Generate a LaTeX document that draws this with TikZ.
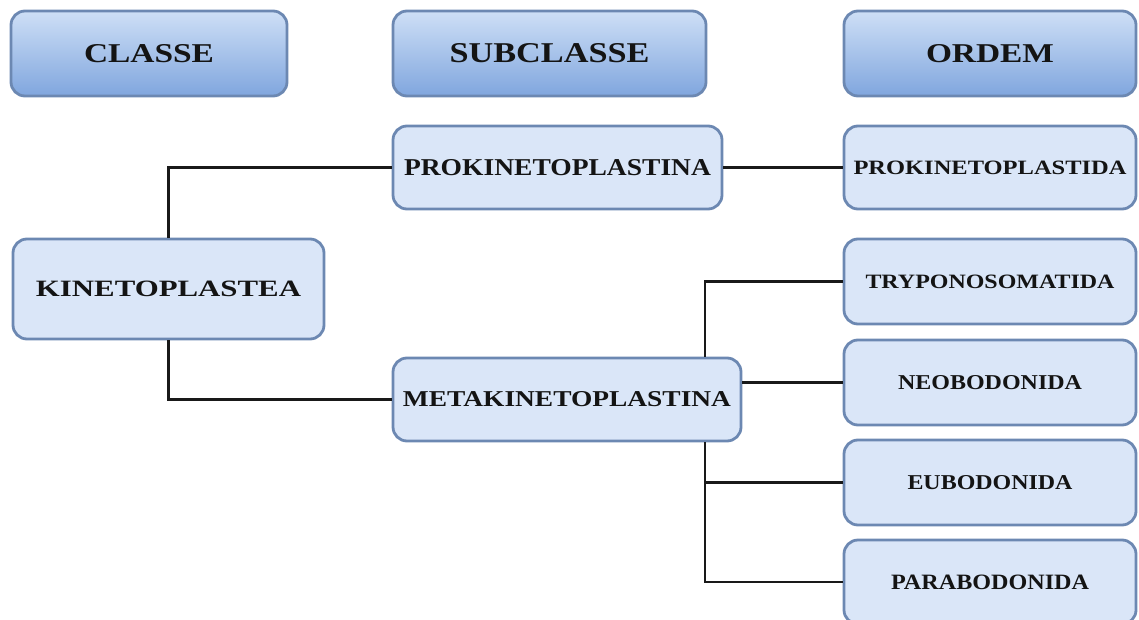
\documentclass[tikz,border=0pt]{standalone}
\usepackage{fontspec}
\usepackage{graphicx}
\setmainfont{Liberation Serif}

\definecolor{edgeblue}{RGB}{108,136,178}
\definecolor{boxfill}{RGB}{218,230,248}
\definecolor{headtop}{RGB}{206,223,246}
\definecolor{headbot}{RGB}{128,166,222}
\definecolor{linkcol}{RGB}{25,25,25}

% label scaled to a given width and cap height
\newcommand{\fitlabel}[3]{\resizebox{#1}{#2}{\bfseries #3}}

\tikzset{
  taxon/.style={draw=edgeblue, line width=2.8pt, rounded corners=14pt,
    fill=boxfill, inner sep=0pt, text=black!92},
  rank/.style={taxon, top color=headtop, bottom color=headbot},
  link/.style={draw=linkcol, line width=2.4pt},
}

\begin{document}
\begin{tikzpicture}[x=1pt,y=-1pt]
\useasboundingbox (0,0) rectangle (1139,620);
\begin{scope}
\clip (0,0) rectangle (1139,620);

% rank headers
\node[rank, minimum width=276pt, minimum height=85pt] (hclasse) at (149,53.5)
  {\fitlabel{130pt}{18pt}{CLASSE}};
\node[rank, minimum width=313pt, minimum height=85pt] (hsub) at (549.5,53.5)
  {\fitlabel{200pt}{19pt}{SUBCLASSE}};
\node[rank, minimum width=292pt, minimum height=85pt] (hordem) at (990,53.5)
  {\fitlabel{128pt}{18pt}{ORDEM}};

% class
\node[taxon, minimum width=311pt, minimum height=100pt] (kin) at (168.5,289)
  {\fitlabel{265pt}{15.5pt}{KINETOPLASTEA}};

% subclasses
\node[taxon, minimum width=329pt, minimum height=83pt] (prok) at (557.5,167.5)
  {\fitlabel{307pt}{16pt}{PROKINETOPLASTINA}};
\node[taxon, minimum width=348pt, minimum height=83pt] (meta) at (567,399.5)
  {\fitlabel{328pt}{15pt}{METAKINETOPLASTINA}};

% orders
\node[taxon, minimum width=292pt, minimum height=83pt] (prokd) at (990,167.5)
  {\fitlabel{273pt}{13.5pt}{PROKINETOPLASTIDA}};
\node[taxon, minimum width=292pt, minimum height=85pt] (tryp) at (990,281.5)
  {\fitlabel{249pt}{13.5pt}{TRYPONOSOMATIDA}};
\node[taxon, minimum width=292pt, minimum height=85pt] (neo) at (990,382.5)
  {\fitlabel{184pt}{14pt}{NEOBODONIDA}};
\node[taxon, minimum width=292pt, minimum height=85pt] (eub) at (990,482.5)
  {\fitlabel{165pt}{14pt}{EUBODONIDA}};
\node[taxon, minimum width=292pt, minimum height=84pt] (para) at (990,582)
  {\fitlabel{198pt}{14.5pt}{PARABODONIDA}};

% connectors
\coordinate (trunk) at (705,0);
\draw[link] (kin.north) |- (prok.west);
\draw[link] (kin.south) |- (meta.west);
\draw[link] (prok.east) -- (prokd.west);
\draw[link] (meta.north -| trunk) |- (tryp.west);
\draw[link] (meta.east |- neo.west) -- (neo.west);
\draw[link] (meta.south -| trunk) |- (para.west);
\draw[link] (eub.west -| trunk) -- (eub.west);
\end{scope}
\end{tikzpicture}
\end{document}
